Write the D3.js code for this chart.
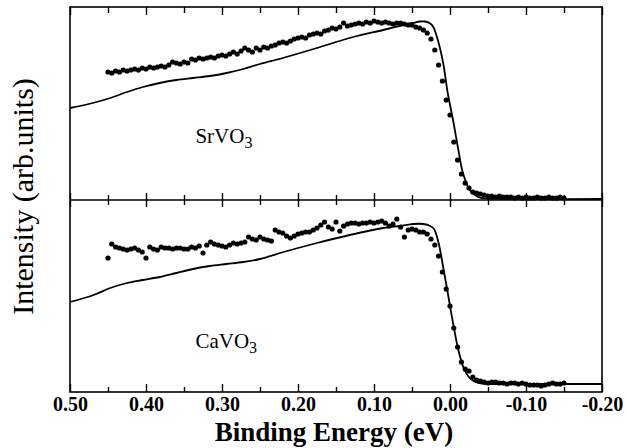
<!DOCTYPE html>
<html>
<head>
<meta charset="utf-8">
<script src="https://cdn.jsdelivr.net/npm/d3@7"></script>
<style>
  html, body { margin: 0; padding: 0; background: #fff; }
  svg { display: block; }
</style>
</head>
<body>
<svg id="chart" width="626" height="448"></svg>
<script>
// ---------- data ----------
const majorTicks = [0.50, 0.40, 0.30, 0.20, 0.10, 0.00, -0.10, -0.20];
const tickLabels = ["0.50", "0.40", "0.30", "0.20", "0.10", "0.00", "-0.10", "-0.20"];
const minorTicks = [0.45, 0.35, 0.25, 0.15, 0.05, -0.05, -0.15];

// measured points share this energy grid (eV)
const dotEnergy = [
  0.450,0.445,0.440,0.435,0.430,0.425,0.420,0.415,0.410,0.405,
  0.400,0.395,0.390,0.385,0.380,0.375,0.370,0.365,0.360,0.355,
  0.350,0.345,0.340,0.335,0.330,0.325,0.320,0.315,0.310,0.305,
  0.300,0.295,0.290,0.285,0.280,0.275,0.270,0.265,0.260,0.255,
  0.250,0.245,0.240,0.235,0.230,0.225,0.220,0.215,0.210,0.205,
  0.200,0.195,0.190,0.185,0.180,0.175,0.170,0.165,0.160,0.155,
  0.150,0.145,0.140,0.135,0.130,0.125,0.120,0.115,0.110,0.105,
  0.100,0.095,0.090,0.085,0.080,0.075,0.070,0.065,0.060,0.055,
  0.050,0.045,0.040,0.035,0.030,0.025,0.020,0.015,0.010,0.005,
  0.000,-0.005,-0.010,-0.015,-0.020,-0.025,-0.030,-0.035,-0.040,-0.045,
  -0.050,-0.055,-0.060,-0.065,-0.070,-0.075,-0.080,-0.085,-0.090,-0.095,
  -0.100,-0.105,-0.110,-0.115,-0.120,-0.125,-0.130,-0.135,-0.140,-0.145,
  -0.150
];

// SrVO3 measured intensity (arb. units)
const srDots = [
  128,127,129,128,130,129,130,131,130,132,
  131,133,132,133,134,133,135,138,137,136,
  138,137,141,140,142,141,142,143,142,144,
  145,144,146,148,146,149,152,150,148,152,
  150,153,152,154,155,157,158,157,159,161,
  162,163,162,165,166,167,166,169,170,172,
  171,173,177,174,175,176,177,176,178,177,
  179,178,177,178,177,176,177,177,176,175,
  175,173,172,170,167,161,150,135,119,100,
  85,58,40,26,17,12,8,7,6,5,
  4,4,3,4,3,3,3,2,3,2,
  3,2,2,3,2,2,3,2,2,3,
  2
];

// CaVO3 measured intensity (arb. units)
const caDots = [
  134,148,145,144,143,142,143,144,142,140,
  134,145,143,142,145,144,144,143,144,144,
  143,143,145,144,146,139,147,150,148,147,
  146,145,147,149,148,149,150,155,153,152,
  155,153,152,151,162,160,159,156,154,156,
  158,159,160,160,162,164,167,170,165,163,
  170,161,166,168,169,169,168,169,169,170,
  169,170,171,169,166,168,173,165,155,162,
  163,162,160,160,158,153,147,136,120,103,
  86,64,45,30,23,21,15,12,11,10,
  9,10,10,9,9,8,9,9,8,9,
  8,7,7,7,6,7,8,9,8,8,
  9
];

// calculated spectra (solid lines)
const srLineEnergy = [0.500,0.470,0.447,0.425,0.404,0.382,0.360,0.338,0.316,0.294,0.272,0.250,0.220,0.175,0.132,0.088,0.066,0.049,0.039,0.033,0.026,0.022,0.016,0.009,0.003,-0.004,-0.011,-0.017,-0.026,-0.037,-0.049,-0.066,-0.200];
const srLine       = [92,97,102,108,113,117,120,122,124,127,131,136,142,152,162,170,174,177,178.5,178.5,176.5,173,160,137,107,80,50,27,10,3,1.5,1,1];

const caLineEnergy = [0.500,0.469,0.447,0.425,0.404,0.382,0.360,0.338,0.316,0.294,0.272,0.250,0.219,0.175,0.132,0.088,0.066,0.048,0.035,0.026,0.021,0.015,0.009,0.002,-0.004,-0.011,-0.018,-0.026,-0.037,-0.048,-0.066,-0.200];
const caLine       = [90,97,104,109,112,115,119,123,126,128,130,133,140,149,157,164,166,168,168,166,163,149,125,95,69,42,24,14,9,8,8,8];

const panelLabels = ["SrVO", "CaVO"];

// ---------- layout ----------
const svg = d3.select("#chart");
const L = 70, R = 602, T = 7, M = 200, B = 392;
const serif = "'Liberation Serif', 'Times New Roman', serif";

const x = d3.scaleLinear().domain([0.5, -0.2]).range([L, R]);
const yTop = d3.scaleLinear().domain([0, 193]).range([M, T]);
const yBot = d3.scaleLinear().domain([0, 192]).range([B, M]);

// frame
svg.append("rect").attr("x", L).attr("y", T).attr("width", R - L).attr("height", B - T)
  .attr("fill", "none").attr("stroke", "#000").attr("stroke-width", 1.6);
svg.append("line").attr("x1", L).attr("x2", R).attr("y1", M).attr("y2", M)
  .attr("stroke", "#000").attr("stroke-width", 1.6);

function tickAxis(axisFn, y, values, size) {
  const g = svg.append("g").attr("transform", `translate(0,${y})`)
    .call(axisFn(x).tickValues(values).tickSize(size).tickFormat(""));
  g.select(".domain").remove();
  g.selectAll(".tick line").attr("stroke", "#000").attr("stroke-width", 1.4);
  return g;
}
// top edge: ticks pointing down
tickAxis(d3.axisTop, T, majorTicks, -8);
tickAxis(d3.axisTop, T, minorTicks, -6);
// middle divider: ticks crossing
tickAxis(d3.axisTop, M, majorTicks, 7);
tickAxis(d3.axisBottom, M, majorTicks, 7);
tickAxis(d3.axisTop, M, minorTicks, 5);
tickAxis(d3.axisBottom, M, minorTicks, 5);
// bottom edge: ticks pointing up, with labels
tickAxis(d3.axisBottom, B, minorTicks, -5);
const gb = svg.append("g").attr("transform", `translate(0,${B})`)
  .call(d3.axisBottom(x).tickValues(majorTicks).tickSize(-8).tickPadding(5)
    .tickFormat((d, i) => tickLabels[i]));
gb.select(".domain").remove();
gb.selectAll(".tick line").attr("stroke", "#000").attr("stroke-width", 1.4);
gb.selectAll(".tick text").attr("fill", "#000")
  .style("font-family", serif).style("font-weight", "bold").style("font-size", "20px");

// curves
function drawPanel(y, lineE, lineI, dotsI) {
  const line = d3.line().x((d, i) => x(lineE[i])).y(d => y(d)).curve(d3.curveCatmullRom.alpha(0.5));
  svg.append("path").datum(lineI).attr("d", line)
    .attr("fill", "none").attr("stroke", "#000").attr("stroke-width", 1.8);
  svg.append("g").selectAll("circle").data(dotsI).join("circle")
    .attr("cx", (d, i) => x(dotEnergy[i])).attr("cy", d => y(d))
    .attr("r", 2.6).attr("fill", "#000");
}
drawPanel(yTop, srLineEnergy, srLine, srDots);
drawPanel(yBot, caLineEnergy, caLine, caDots);

// panel labels with subscript
function compound(txt, px, py) {
  const t = svg.append("text").attr("x", px).attr("y", py)
    .style("font-family", serif).style("font-size", "21px").attr("fill", "#000");
  t.append("tspan").text(txt);
  t.append("tspan").attr("dy", 5).style("font-size", "16px").text("3");
}
compound(panelLabels[0], x(0.335), 143);
compound(panelLabels[1], x(0.335), 348);

// axis titles
svg.append("text").attr("transform", `translate(33,${(T + B) / 2 - 3}) rotate(-90)`)
  .attr("text-anchor", "middle").style("font-family", serif).style("font-size", "30px")
  .attr("fill", "#000").text("Intensity (arb.units)");
svg.append("text").attr("x", 334).attr("y", 441).attr("text-anchor", "middle")
  .style("font-family", serif).style("font-weight", "bold").style("font-size", "27px")
  .attr("fill", "#000").text("Binding Energy (eV)");
</script>
</body>
</html>
